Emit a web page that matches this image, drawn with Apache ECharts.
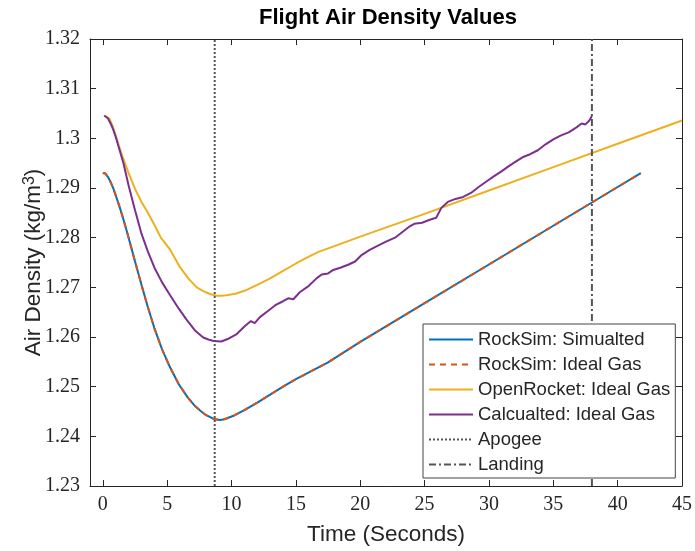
<!DOCTYPE html>
<html>
<head>
<meta charset="utf-8">
<script src="https://cdn.jsdelivr.net/npm/echarts@6/dist/echarts.min.js"></script>
<style>
  html, body { margin: 0; padding: 0; background: #fff; }
  #chart { width: 695px; height: 551px; }
</style>
</head>
<body>
<div id="chart"></div>
<script>
// values
const rockSimTime = [0, 0.2, 0.4, 0.6, 0.8, 1.0, 1.25, 1.5, 1.75, 2.0, 2.5, 3.0, 3.5, 4.0, 4.6, 5.2, 5.9, 6.6, 7.2, 7.6, 8.0, 8.3, 8.6, 8.85, 9.1, 9.35, 9.6, 10.2, 11.0, 12.0, 13.0, 14.0, 15.0, 17.5, 20.0, 25.0, 30.0, 35.0, 40.0, 41.8]
const rockSimSimulated = [1.2930, 1.2929, 1.2922, 1.2912, 1.2900, 1.2885, 1.2866, 1.2845, 1.2823, 1.2800, 1.2752, 1.2705, 1.2660, 1.2618, 1.2575, 1.2540, 1.2505, 1.2478, 1.2460, 1.2451, 1.2443, 1.2439, 1.2435, 1.2434, 1.2433, 1.2434, 1.2436, 1.2442, 1.2453, 1.2468, 1.2484, 1.2500, 1.2515, 1.2549, 1.2590, 1.2668, 1.2746, 1.2824, 1.2902, 1.2930]
const rockSimIdeal = [1.2930, 1.2929, 1.2922, 1.2912, 1.2900, 1.2885, 1.2866, 1.2845, 1.2823, 1.2800, 1.2752, 1.2705, 1.2660, 1.2618, 1.2575, 1.2540, 1.2505, 1.2478, 1.2460, 1.2451, 1.2443, 1.2439, 1.2435, 1.2434, 1.2433, 1.2434, 1.2436, 1.2442, 1.2453, 1.2468, 1.2484, 1.2500, 1.2515, 1.2549, 1.2590, 1.2668, 1.2746, 1.2824, 1.2902, 1.2930]

const openRocketTime = [0.2, 0.35, 0.5, 0.75, 1.0, 1.25, 1.5, 2.0, 2.5, 3.0, 3.5, 4.0, 4.5, 5.2, 6.0, 6.7, 7.3, 7.7, 8.0, 8.4, 8.8, 9.2, 9.6, 10.3, 11.0, 12.0, 13.0, 14.0, 15.0, 16.0, 16.8, 18.0, 20.0, 25.0, 30.0, 35.0, 40.0, 45.0]
const openRocketIdeal = [1.3045, 1.3044, 1.3040, 1.3025, 1.3005, 1.2985, 1.2965, 1.2930, 1.2898, 1.2872, 1.2850, 1.2826, 1.2800, 1.2777, 1.2740, 1.2716, 1.2700, 1.2694, 1.2690, 1.2686, 1.2683, 1.2683, 1.2684, 1.2687, 1.2693, 1.2705, 1.2718, 1.2733, 1.2748, 1.2762, 1.2772, 1.2783, 1.2802, 1.2848, 1.2895, 1.2942, 1.2989, 1.3036]

const calcTime = [0.1, 0.25, 0.4, 0.6, 0.8, 1.0, 1.2, 1.6, 2.0, 2.5, 3.0, 3.5, 4.0, 4.6, 5.2, 5.9, 6.5, 7.2, 7.8, 8.2, 8.6, 9.2, 9.8, 10.4, 11.0, 11.5, 11.8, 12.2, 12.8, 13.4, 14.0, 14.4, 14.8, 15.3, 16.0, 16.6, 17.0, 17.5, 17.9, 18.5, 19.1, 19.6, 20.1, 20.7, 21.3, 22.0, 22.7, 23.3, 23.8, 24.2, 24.8, 25.4, 25.9, 26.3, 26.8, 27.4, 28.0, 28.6, 29.2, 29.8, 30.4, 31.0, 31.6, 32.2, 32.7, 33.2, 33.8, 34.4, 35.0, 35.6, 36.2, 36.8, 37.2, 37.5, 37.8, 38.0]
const calcIdeal = [1.3046, 1.3045, 1.3040, 1.3030, 1.3018, 1.3003, 1.2985, 1.2950, 1.2905, 1.2855, 1.2808, 1.2772, 1.2740, 1.2710, 1.2685, 1.2657, 1.2635, 1.2612, 1.2599, 1.2595, 1.2592, 1.2591, 1.2597, 1.2606, 1.2621, 1.2632, 1.2628, 1.2640, 1.2652, 1.2664, 1.2672, 1.2678, 1.2676, 1.2690, 1.2703, 1.2718, 1.2726, 1.2728, 1.2735, 1.2740, 1.2746, 1.2752, 1.2765, 1.2775, 1.2783, 1.2792, 1.2800, 1.2812, 1.2822, 1.2828, 1.2830, 1.2836, 1.2840, 1.2860, 1.2872, 1.2878, 1.2882, 1.2890, 1.2902, 1.2913, 1.2924, 1.2934, 1.2945, 1.2955, 1.2963, 1.2968, 1.2976, 1.2988, 1.2998, 1.3006, 1.3012, 1.3022, 1.3030, 1.3028, 1.3036, 1.3045]

const apogeeTime = 8.69
const landingTime = 38.0

const xTicks = [0, 5, 10, 15, 20, 25, 30, 35, 40, 45]
const yTicks = [1.23, 1.24, 1.25, 1.26, 1.27, 1.28, 1.29, 1.30, 1.31, 1.32]

const zip = (xs, ys) => xs.map((x, i) => [x, ys[i]])
const vline = (x) => [[x, yTicks[0]], [x, yTicks[yTicks.length - 1]]]

const axisColor = '#262626'
const serif = 'Liberation Serif'
const sans = 'Liberation Sans'

const baseX = {
  type: 'value',
  min: -1,
  max: 45,
  splitLine: { show: false },
  axisLine: { show: true, onZero: false, lineStyle: { color: axisColor, width: 1 } },
  axisTick: { show: true, inside: true, length: 6, customValues: xTicks, lineStyle: { color: axisColor } }
}
const baseY = {
  type: 'value',
  min: 1.23,
  max: 1.32,
  splitLine: { show: false },
  axisLine: { show: true, onZero: false, lineStyle: { color: axisColor, width: 1 } },
  axisTick: { show: true, inside: true, length: 6, customValues: yTicks, lineStyle: { color: axisColor } }
}

const chart = echarts.init(document.getElementById('chart'))
chart.setOption({
  backgroundColor: '#fff',
  animation: false,
  title: {
    text: 'Flight Air Density Values',
    left: 388,
    textAlign: 'center',
    top: 7,
    padding: 0,
    textStyle: { fontFamily: sans, fontSize: 22, fontWeight: 'bold', color: '#000' }
  },
  grid: { left: 90, right: 10, top: 39, bottom: 64 },
  legend: {
    orient: 'vertical',
    left: 423,
    top: 324,
    align: 'left',
    padding: [3, 5, 1, 5],
    itemWidth: 44,
    itemHeight: 14,
    itemGap: 0,
    itemStyle: { opacity: 0 },
    backgroundColor: '#fff',
    borderColor: '#444',
    borderWidth: 1,
    borderRadius: 0,
    textStyle: { fontFamily: sans, fontSize: 18.5, color: axisColor, lineHeight: 25 },
    data: ['RockSim: Simualted', 'RockSim: Ideal Gas', 'OpenRocket: Ideal Gas', 'Calcualted: Ideal Gas', 'Apogee', 'Landing']
  },
  xAxis: [
    Object.assign({}, baseX, {
      position: 'bottom',
      name: 'Time (Seconds)',
      nameLocation: 'middle',
      nameGap: 37,
      nameTextStyle: { fontFamily: sans, fontSize: 22.5, color: axisColor },
      axisLabel: {
        customValues: xTicks,
        margin: 9,
        fontFamily: serif,
        fontSize: 20,
        color: axisColor
      }
    }),
    Object.assign({}, baseX, { position: 'top', axisLabel: { show: false } })
  ],
  yAxis: [
    Object.assign({}, baseY, {
      position: 'left',
      name: 'Air Density (kg/m{sup|3})',
      nameLocation: 'middle',
      nameGap: 45,
      nameMoveOverlap: false,
      nameTextStyle: {
        fontFamily: sans,
        fontSize: 22.5,
        color: axisColor,
        rich: {
          sup: { fontFamily: sans, fontSize: 16, color: axisColor, verticalAlign: 'top', lineHeight: 16 }
        }
      },
      axisLabel: {
        customValues: yTicks,
        margin: 10,
        fontFamily: serif,
        fontSize: 20,
        color: axisColor,
        formatter: (v) => String(parseFloat(v.toFixed(2)))
      }
    }),
    Object.assign({}, baseY, { position: 'right', axisLabel: { show: false } })
  ],
  series: [
    {
      name: 'RockSim: Simualted',
      type: 'line',
      symbol: 'none',
      data: zip(rockSimTime, rockSimSimulated),
      itemStyle: { color: '#0072BD' },
      lineStyle: { color: '#0072BD', width: 2 }
    },
    {
      name: 'RockSim: Ideal Gas',
      type: 'line',
      symbol: 'none',
      data: zip(rockSimTime, rockSimIdeal),
      itemStyle: { color: '#D95319' },
      lineStyle: { color: '#D95319', width: 2, type: [6, 5] }
    },
    {
      name: 'OpenRocket: Ideal Gas',
      type: 'line',
      symbol: 'none',
      data: zip(openRocketTime, openRocketIdeal),
      itemStyle: { color: '#EDB120' },
      lineStyle: { color: '#EDB120', width: 2 }
    },
    {
      name: 'Calcualted: Ideal Gas',
      type: 'line',
      symbol: 'none',
      data: zip(calcTime, calcIdeal),
      itemStyle: { color: '#7E2F8E' },
      lineStyle: { color: '#7E2F8E', width: 2 }
    },
    {
      name: 'Apogee',
      type: 'line',
      symbol: 'none',
      data: vline(apogeeTime),
      itemStyle: { color: '#555' },
      lineStyle: { color: '#555', width: 2, type: [2, 2] }
    },
    {
      name: 'Landing',
      type: 'line',
      symbol: 'none',
      data: vline(landingTime),
      itemStyle: { color: '#555' },
      lineStyle: { color: '#555', width: 2, type: [7, 3, 2, 3] }
    }
  ]
})
</script>
</body>
</html>
